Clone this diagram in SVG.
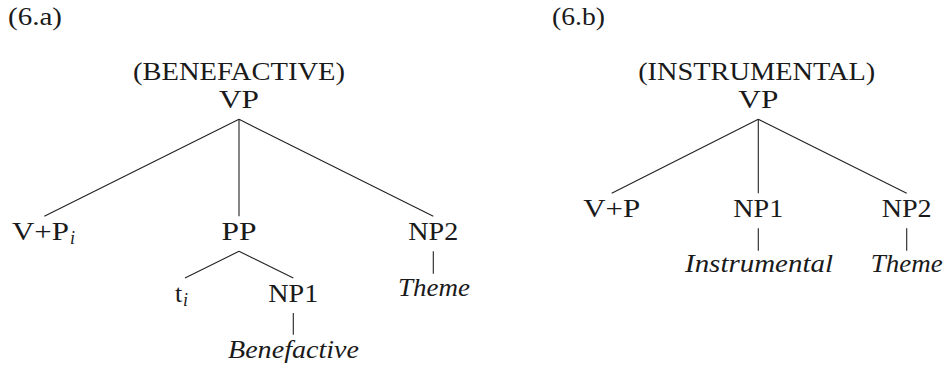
<svg xmlns="http://www.w3.org/2000/svg" width="948" height="366" viewBox="0 0 948 366">
<style>
text{font-family:"Liberation Serif","Times New Roman",serif;font-size:26px;fill:#1a1a1a}
.c{text-anchor:middle}
.it{font-style:italic}
.sub{font-style:italic;font-size:18px}
.edge{stroke:#222;stroke-width:1.1;fill:none}
</style>
<rect width="948" height="366" fill="#fff"/>
<g id="connectors">
<line class="edge" x1="239" y1="119.3" x2="44.3" y2="216.3"/>
<line class="edge" x1="239" y1="119.3" x2="239" y2="216.3"/>
<line class="edge" x1="239" y1="119.3" x2="433.3" y2="216.3"/>
<line class="edge" x1="239" y1="251.3" x2="185" y2="278"/>
<line class="edge" x1="239" y1="251.3" x2="293.3" y2="278"/>
<line class="edge" x1="293.3" y1="313" x2="293.3" y2="334.7"/>
<line class="edge" x1="433.3" y1="251.3" x2="433.3" y2="273.7"/>
<line class="edge" x1="758.3" y1="119.3" x2="611.7" y2="193.3"/>
<line class="edge" x1="758.3" y1="119.3" x2="758.3" y2="193.3"/>
<line class="edge" x1="758.3" y1="119.3" x2="906.7" y2="193.3"/>
<line class="edge" x1="758.3" y1="228.3" x2="758.3" y2="250.7"/>
<line class="edge" x1="906.7" y1="228.3" x2="906.7" y2="250.7"/>
</g>
<g id="label-6a"><text x="8" y="25" textLength="54" lengthAdjust="spacingAndGlyphs">(6.a)</text></g>
<g id="label-6b"><text x="552" y="25" textLength="53" lengthAdjust="spacingAndGlyphs">(6.b)</text></g>
<g id="a-title"><text class="c" x="239" y="80" textLength="212" lengthAdjust="spacingAndGlyphs">(BENEFACTIVE)</text></g>
<g id="a-vp"><text class="c" x="239" y="107.5" textLength="40" lengthAdjust="spacingAndGlyphs">VP</text></g>
<g id="a-vp-pi"><text x="12" y="240" textLength="57" lengthAdjust="spacingAndGlyphs">V+P</text><text class="sub" x="70" y="244">i</text></g>
<g id="a-pp"><text class="c" x="239" y="240" textLength="35" lengthAdjust="spacingAndGlyphs">PP</text></g>
<g id="a-np2"><text class="c" x="433.3" y="240" textLength="50" lengthAdjust="spacingAndGlyphs">NP2</text></g>
<g id="a-ti"><text x="175" y="302">t</text><text class="sub" x="183" y="306">i</text></g>
<g id="a-np1"><text class="c" x="293.3" y="302" textLength="50" lengthAdjust="spacingAndGlyphs">NP1</text></g>
<g id="a-benefactive"><text class="c it" x="293.5" y="358" textLength="131" lengthAdjust="spacingAndGlyphs">Benefactive</text></g>
<g id="a-theme"><text class="c it" x="434" y="296" textLength="72" lengthAdjust="spacingAndGlyphs">Theme</text></g>
<g id="b-title"><text class="c" x="756.7" y="80" textLength="237" lengthAdjust="spacingAndGlyphs">(INSTRUMENTAL)</text></g>
<g id="b-vp"><text class="c" x="758.3" y="107.5" textLength="40" lengthAdjust="spacingAndGlyphs">VP</text></g>
<g id="b-vp-plus"><text class="c" x="611.7" y="216.7" textLength="57" lengthAdjust="spacingAndGlyphs">V+P</text></g>
<g id="b-np1"><text class="c" x="758.3" y="216.7" textLength="50" lengthAdjust="spacingAndGlyphs">NP1</text></g>
<g id="b-np2"><text class="c" x="906.7" y="216.7" textLength="50" lengthAdjust="spacingAndGlyphs">NP2</text></g>
<g id="b-instrumental"><text class="c it" x="759" y="271.7" textLength="148" lengthAdjust="spacingAndGlyphs">Instrumental</text></g>
<g id="b-theme"><text class="c it" x="906.7" y="271.7" textLength="72" lengthAdjust="spacingAndGlyphs">Theme</text></g>
</svg>
